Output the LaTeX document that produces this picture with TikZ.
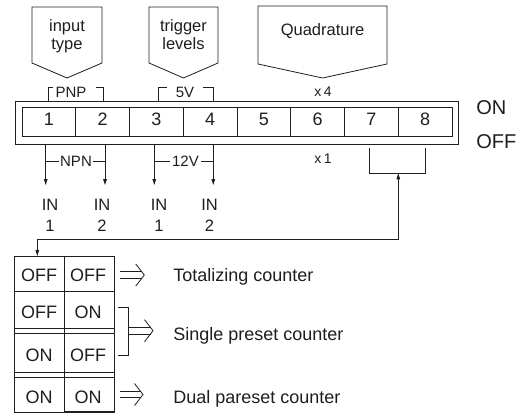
\documentclass[tikz,border=0pt]{standalone}
\usepackage{fontspec}
\setmainfont{Liberation Sans}
\usetikzlibrary{arrows.meta}
\definecolor{ink}{RGB}{30,30,30}
\newcommand{\dblarr}[3]{%
  \draw (#1,#3-3.3) -- (#2-2.4,#3-3.3);
  \draw (#1,#3+3.3) -- (#2-2.4,#3+3.3);
  \draw (#2-8.5,#3-11) -- (#2,#3) -- (#2-8.5,#3+11);}
\begin{document}
\begin{tikzpicture}[x=1pt,y=-1pt,line width=0.8pt,color=ink,
  lbl/.style={inner sep=0pt,anchor=base,font=\fontsize{16.5}{18}\selectfont},
  big/.style={inner sep=0pt,anchor=base,font=\fontsize{18}{20}\selectfont},
  sm/.style={inner sep=0pt,anchor=base,font=\fontsize{15}{16}\selectfont},
  tiny/.style={inner sep=0pt,anchor=base,font=\fontsize{14}{16}\selectfont},
  huge/.style={inner sep=0pt,anchor=base west,font=\fontsize{20}{22}\selectfont},
  desc/.style={inner sep=0pt,anchor=base west,font=\fontsize{18}{20}\selectfont},
  arr/.style={-{Triangle[length=6pt,width=3.6pt]}},
  darr/.style={{Triangle[length=6pt,width=3.6pt]}-{Triangle[length=6pt,width=3.6pt]}}]
\useasboundingbox (0,0) rectangle (521,414);

% pentagon labels
\draw (32,7) -- (102,7) -- (102,63) -- (67,78) -- (32,63) -- cycle;
\node[lbl] (inp1) at (67,31.5) {input};
\node[lbl] (inp2) at (67,49.5) {type};
\draw (149,7) -- (218,7) -- (218,63) -- (183.5,78) -- (149,63) -- cycle;
\node[lbl] (trg1) at (183.5,31.5) {trigger};
\node[lbl] (trg2) at (183.5,49.5) {levels};
\draw (258,6) -- (387,6) -- (387,64) -- (322.5,78) -- (258,64) -- cycle;
\node[lbl] (quad) at (322.5,36) {Quadrature};

% upper brackets
\node[sm] (pnp) at (71,97.5) {PNP};
\draw (48,101) -- (48,87) -- (53,87);
\draw (96,87) -- (103,87) -- (103,101);
\node[sm] (fivev) at (185,97.5) {5V};
\draw (158.3,101) -- (158.3,87) -- (166.7,87);
\draw (203,87) -- (213.3,87) -- (213.3,101);
\node[tiny] (x4) at (323,97) {x\,4};

% DIP switch
\draw (15,101) rectangle (458,144);
\draw (22,107) rectangle (452,136);
\foreach \k in {1,...,7} \draw ({22+53.75*\k},107) -- ({22+53.75*\k},136);
\foreach \i in {1,...,8} \node[big] (d\i) at ({22+53.75*(\i-0.5)},126) {\i};
\node[huge] (on) at (476,115) {ON};
\node[huge] (off) at (476,148.5) {OFF};

% lower brackets and arrows
\coordinate (a1) at (45.7,185);
\coordinate (a2) at (105,185);
\coordinate (a3) at (154.3,185);
\coordinate (a4) at (213.3,185);
\draw[arr] (45.7,144) -- (a1);
\draw[arr] (105,144) -- (a2);
\draw[arr] (154.3,144) -- (a3);
\draw[arr] (213.3,144) -- (a4);
\node[sm] (npn) at (76,166.5) {NPN};
\draw (45.7,161.7) -- (59.3,161.7);
\draw (93.3,161.7) -- (105,161.7);
\node[sm] (twelve) at (185.5,166.5) {12V};
\draw (154.3,161.7) -- (170,161.7);
\draw (200.5,161.7) -- (213.3,161.7);
\node[tiny] (x1) at (323,163.5) {x\,1};

\node[lbl] (in1a) at (50,210) {IN};
\node[lbl] (in1b) at (50,231.7) {1};
\node[lbl] (in2a) at (102,210) {IN};
\node[lbl] (in2b) at (102,231.7) {2};
\node[lbl] (in3a) at (159,210) {IN};
\node[lbl] (in3b) at (159,231.7) {1};
\node[lbl] (in4a) at (209.5,210) {IN};
\node[lbl] (in4b) at (209.5,231.7) {2};

% bracket under 7-8 and long connector
\draw (369.3,148.3) -- (369.3,173.3) -- (425.7,173.3) -- (425.7,148.3);
\coordinate (bk) at (398.3,173.3);
\coordinate (tb) at (37.3,256);
\draw[darr] (bk) -- (398.3,239.5) -- (37.3,239.5) -- (tb);

% table
\draw (14.3,256) rectangle (114,412);
\draw (64,256) -- (64,412);
\foreach \yy in {291,328,333,372,377} \draw (14.3,\yy) -- (114,\yy);
\draw[line width=1.6pt] (64,412) -- (114,412);
\node[big] (t11) at (39,281) {OFF};
\node[big] (t12) at (88,281) {OFF};
\node[big] (t21) at (39,318) {OFF};
\node[big] (t22) at (88,318) {ON};
\node[big] (t31) at (39,361) {ON};
\node[big] (t32) at (88,361) {OFF};
\node[big] (t41) at (39,403.5) {ON};
\node[big] (t42) at (88,403.5) {ON};

\dblarr{120}{144.3}{275}
\draw (118,307) -- (128,307) -- (128,355) -- (118,355);
\dblarr{128}{153}{330.7}
\dblarr{120}{143}{394.5}

\node[desc] (tot) at (173,281) {Totalizing counter};
\node[desc] (sgl) at (173,340) {Single preset counter};
\node[desc] (dua) at (173,403) {Dual pareset counter};
\end{tikzpicture}
\end{document}
